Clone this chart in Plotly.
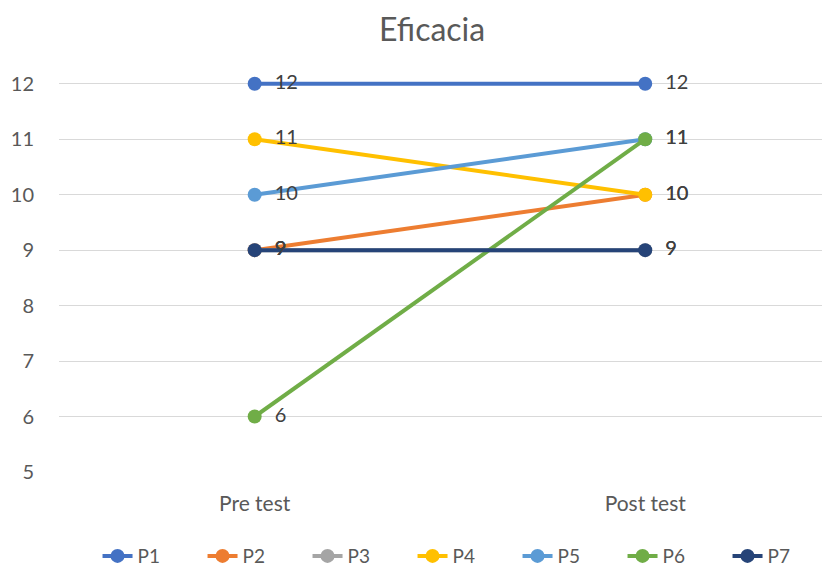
import plotly.graph_objects as go

categories = ["Pre test", "Post test"]
series_names = ["P1", "P2", "P3", "P4", "P5", "P6", "P7"]
P1 = [12, 12]
P2 = [9, 10]
P3 = [9, 9]
P4 = [11, 10]
P5 = [10, 11]
P6 = [6, 11]
P7 = [9, 9]
series_values = [P1, P2, P3, P4, P5, P6, P7]
colors = ["#4472C4", "#ED7D31", "#A5A5A5", "#FFC000", "#5B9BD5", "#70AD47", "#264478"]
y_ticks = [5, 6, 7, 8, 9, 10, 11, 12]

FONT = "Lato, Open Sans, Liberation Sans, Arial"

fig = go.Figure()
for name, vals, col in zip(series_names, series_values, colors):
    fig.add_trace(go.Scatter(
        x=categories, y=vals, name=name, mode="lines+markers+text",
        line=dict(color=col, width=4),
        marker=dict(color=col, size=14),
        text=["  " + str(v) for v in vals],
        textposition="middle right",
        textfont=dict(family=FONT, size=20, color="#404040"),
        cliponaxis=False,
    ))

fig.update_layout(
    width=830, height=566,
    margin=dict(l=51, r=10, t=73, b=102, autoexpand=False),
    paper_bgcolor="white", plot_bgcolor="white",
    title=dict(text="Eficacia", x=0.511, xanchor="center", y=0.961, yanchor="middle",
               font=dict(family=FONT, size=32, color="#595959")),
    showlegend=True,
    legend=dict(orientation="h", x=0.528, xanchor="center", y=-0.215, yanchor="middle",
                font=dict(family=FONT, size=19, color="#595959"),
                entrywidth=60, entrywidthmode="pixels", traceorder="normal"),
    xaxis=dict(range=[-0.501, 1.468], showgrid=False, zeroline=False, showline=False,
               ticks="", automargin=False, ticklabelstandoff=17,
               tickfont=dict(family=FONT, size=21, color="#595959"),
               fixedrange=True),
    yaxis=dict(range=[5, 12.05], tickvals=y_ticks, showgrid=True, gridcolor="#D9D9D9", gridwidth=1,
               zeroline=False, showline=False, ticks="", ticklabelstandoff=24, automargin=False,
               tickfont=dict(family=FONT, size=20, color="#595959")),
)
fig.write_html("out.html")
